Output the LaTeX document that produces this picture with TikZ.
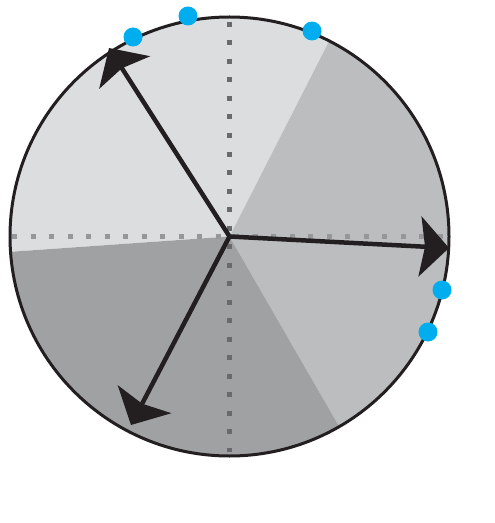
\documentclass[tikz,border=0pt]{standalone}
\usetikzlibrary{arrows.meta}
\definecolor{lightsec}{RGB}{220,221,223}
\definecolor{midsec}{RGB}{188,189,191}
\definecolor{darksec}{RGB}{160,161,163}
\definecolor{rimcol}{RGB}{35,31,32}
\definecolor{dotblue}{RGB}{0,174,239}
\definecolor{gridcol}{RGB}{105,106,108}
\definecolor{gridlight}{RGB}{150,151,153}
\begin{document}
\begin{tikzpicture}[x=1bp,y=-1bp,
  rim/.style={draw=rimcol, line width=3bp},
  gridline/.style={draw=gridcol, line width=4.5bp, dash pattern=on 5bp off 13.5bp},
  vec/.style={draw=rimcol, line width=4.5bp, -{Stealth[length=29bp,width=60bp,inset=5bp]}},
  bluedot/.style={fill=dotblue}]
\useasboundingbox (0,0) rectangle (495,523);
\def\R{219.5}
\coordinate (c) at (229.5,236.5);
% sectors
\fill[lightsec] (c) -- ++(-63:\R) arc[start angle=-63,end angle=-184,radius=\R] -- cycle;
\fill[midsec] (c) -- ++(60:\R) arc[start angle=60,end angle=-63,radius=\R] -- cycle;
\fill[darksec] (c) -- ++(-184:\R) arc[start angle=-184,end angle=-300,radius=\R] -- cycle;
% dotted axes
\coordinate (vt) at (229.5,22);
\coordinate (vb) at (229.5,452);
\coordinate (hl) at (12,236.5);
\coordinate (hr) at (446,236.5);
\draw[gridline] (vt) -- (vb);
\draw[gridline, draw=gridlight] (hl) -- (hr);
% rim
\draw[rim] (c) circle[radius=\R];
% arrows
\coordinate (t1) at (449,248);
\coordinate (t2) at (109,48);
\coordinate (t3) at (131,425);
\draw[vec] (c) -- (t1);
\draw[vec] (c) -- (t2);
\draw[vec] (c) -- (t3);
% blue dots
\fill[bluedot] (133,37) circle[radius=9.5];
\fill[bluedot] (188,16) circle[radius=9.5];
\fill[bluedot] (312,31) circle[radius=9.5];
\fill[bluedot] (442,290) circle[radius=9.5];
\fill[bluedot] (428,332) circle[radius=9.5];
\end{tikzpicture}
\end{document}
